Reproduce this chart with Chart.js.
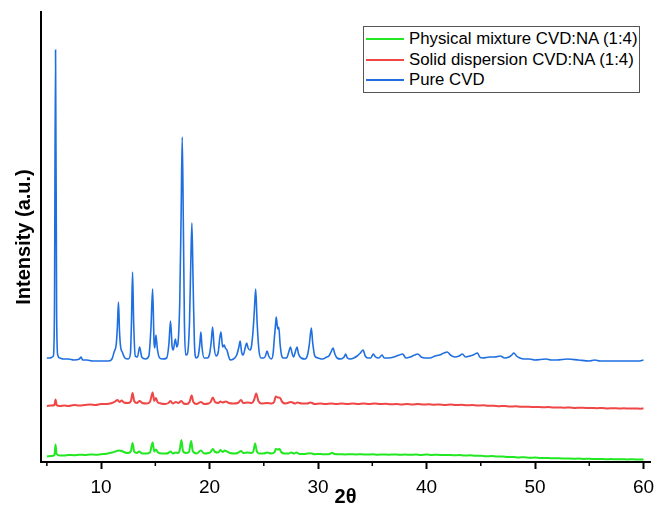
<!DOCTYPE html>
<html>
<head>
<meta charset="utf-8">
<script src="https://cdn.jsdelivr.net/npm/chart.js@4.4.1/dist/chart.umd.min.js"></script>
<style>
  body { margin: 0; background: #fff; }
  #wrap { position: relative; width: 656px; height: 514px; }
  #legend {
    position: absolute; left: 363px; top: 26px; width: 275px; height: 65px;
    border: 1px solid #555; background: #fff;
    font-family: "Liberation Sans", Arial, sans-serif; font-size: 16.8px; color: #000;
  }
  .row { position: absolute; left: 0; height: 20px; line-height: 20px; white-space: nowrap; }
  .row span.line { position: absolute; left: 2px; top: 9px; width: 38px; height: 2px; }
  .row span.txt { position: absolute; left: 45px; top: 0; }
</style>
</head>
<body>
<div id="wrap">
  <canvas id="xrdChart" width="656" height="514"></canvas>
  <div id="legend"></div>
</div>
<script>
// x-axis ticks
const xTicks = [10, 20, 30, 40, 50, 60];
const xMinorTicks = [5, 15, 25, 35, 45, 55];

// Pure CVD
const pureTheta = [5.0, 5.3, 5.5, 5.6, 5.7, 5.8, 5.9, 6.0, 6.2, 6.5, 7.0, 7.5, 8.0, 8.15, 8.3, 8.7, 9.2, 9.7, 10.2, 10.7,
  11.0, 11.2, 11.4, 11.5, 11.6, 11.7, 11.8, 11.95, 12.2, 12.5, 12.7, 12.8, 12.9, 13.0, 13.15, 13.35, 13.55, 13.75, 14.1, 14.4,
  14.6, 14.75, 14.88, 14.95, 15.05, 15.2, 15.4, 15.7, 16.05, 16.25, 16.4, 16.55, 16.65, 16.85, 16.98, 17.1, 17.25, 17.38, 17.48, 17.58,
  17.68, 17.8, 17.95, 18.15, 18.27, 18.37, 18.48, 18.6, 18.75, 18.95, 19.1, 19.2, 19.3, 19.5, 19.8, 20.0, 20.15, 20.28, 20.42, 20.6,
  20.8, 20.95, 21.05, 21.2, 21.35, 21.45, 21.6, 21.75, 21.9, 22.2, 22.5, 22.7, 22.82, 22.95, 23.1, 23.3, 23.42, 23.55, 23.72, 23.85,
  24.0, 24.12, 24.25, 24.38, 24.55, 24.75, 25.0, 25.15, 25.3, 25.45, 25.7, 25.85, 25.98, 26.1, 26.15, 26.28, 26.38, 26.5, 26.65, 26.8,
  27.1, 27.3, 27.45, 27.6, 27.75, 27.9, 28.06, 28.2, 28.45, 28.8, 29.05, 29.2, 29.38, 29.5, 29.7, 30.0, 30.4, 30.8, 31.0, 31.2,
  31.38, 31.55, 31.75, 32.1, 32.4, 32.55, 32.7, 33.0, 33.3, 33.6, 33.9, 34.15, 34.35, 34.6, 34.85, 35.1, 35.3, 35.6, 35.9, 36.1,
  36.5, 37.0, 37.5, 37.8, 38.1, 38.5, 38.9, 39.2, 39.5, 39.9, 40.3, 40.8, 41.2, 41.6, 41.9, 42.2, 42.6, 43.0, 43.3, 43.6,
  44.0, 44.3, 44.7, 44.9, 45.2, 45.8, 46.3, 46.8, 47.2, 47.6, 47.85, 48.05, 48.3, 48.6, 49.0, 49.5, 50.0, 51.0, 51.5, 52.0,
  53.0, 54.0, 55.0, 55.5, 56.0, 57.0, 58.0, 59.0, 59.5, 60.0];
const pureIntensity = [104, 104, 105, 106, 150, 412, 150, 107, 104, 103, 103, 102, 103, 105, 102, 102, 101, 101, 101, 101,
  103, 110, 118, 135, 160, 130, 115, 110, 104, 103, 108, 140, 190, 140, 106, 105, 115, 105, 103, 106,
  135, 173, 120, 114, 127, 112, 104, 103, 104, 118, 141, 115, 112, 123, 115, 120, 160, 250, 325, 240,
  140, 107, 108, 140, 200, 239, 180, 120, 104, 106, 118, 130, 115, 104, 104, 108, 120, 135, 115, 106,
  110, 125, 130, 115, 117, 114, 112, 106, 102, 103, 107, 115, 121, 110, 107, 115, 119, 114, 112, 115,
  130, 150, 173, 140, 112, 104, 104, 106, 111, 106, 103, 108, 125, 140, 145, 133, 135, 118, 106, 104,
  104, 110, 115, 109, 105, 110, 115, 108, 104, 103, 108, 118, 134, 120, 106, 104, 103, 105, 106, 110,
  114, 108, 104, 103, 105, 108, 104, 103, 104, 106, 109, 112, 106, 104, 104, 108, 105, 104, 107, 104,
  104, 105, 107, 108, 104, 105, 107, 108, 105, 104, 104, 106, 107, 109, 110, 107, 105, 106, 108, 105,
  106, 107, 109, 105, 104, 105, 105, 106, 104, 105, 107, 109, 106, 104, 103, 103, 102, 103, 102, 102,
  103, 102, 101, 102, 101, 101, 101, 101, 101, 102];

// Solid dispersion CVD:NA (1:4)
const solidTheta = [5.0, 5.4, 5.7, 5.8, 5.9, 6.2, 6.6, 7.0, 7.5, 8.0, 8.5, 9.0, 9.5, 10.0, 10.5, 11.0, 11.3, 11.5, 11.7, 11.9,
  12.1, 12.5, 12.75, 12.9, 13.05, 13.3, 13.55, 13.8, 14.2, 14.5, 14.75, 14.9, 15.05, 15.2, 15.5, 15.9, 16.2, 16.4, 16.6, 16.9,
  17.1, 17.4, 17.6, 17.9, 18.15, 18.35, 18.5, 18.8, 19.2, 19.5, 19.9, 20.1, 20.3, 20.5, 20.8, 21.0, 21.2, 21.5, 21.8, 22.2,
  22.6, 22.9, 23.1, 23.5, 23.9, 24.1, 24.3, 24.5, 24.8, 25.3, 25.7, 25.95, 26.1, 26.3, 26.5, 26.7, 27.0, 27.5, 27.9, 28.1,
  28.5, 29.0, 29.3, 29.7, 30.2, 30.7, 31.2, 31.7, 32.2, 32.7, 33.2, 33.7, 34.2, 34.7, 35.2, 35.7, 36.2, 36.7, 37.2, 37.7,
  38.2, 38.7, 39.2, 39.7, 40.2, 40.7, 41.2, 41.7, 42.2, 42.7, 43.2, 43.7, 44.2, 44.7, 45.2, 45.7, 46.2, 46.7, 47.2, 47.7,
  48.2, 48.7, 49.2, 49.7, 50.2, 50.7, 51.2, 51.7, 52.2, 52.7, 53.2, 53.7, 54.2, 54.7, 55.2, 55.7, 56.2, 56.7, 57.2, 57.7,
  58.2, 58.7, 59.2, 59.7, 60.0];
const solidIntensity = [56, 56.5, 57, 62.5, 57, 56, 56.5, 56, 57, 56.5, 57, 57.5, 57, 58, 58, 59, 60.5, 62, 60, 61.5,
  59.5, 59, 61, 69, 61, 59, 61, 59, 58.5, 60, 69.5, 61, 64, 60, 58.5, 58, 59, 61, 58.5, 60,
  59, 61, 58.5, 58, 60, 66.5, 60, 58, 60, 58, 58.5, 60, 64.5, 60, 59, 60.5, 59.5, 60.5, 59, 58.5,
  59, 62, 59, 59.5, 59, 62, 68.5, 61, 58.5, 59, 58.5, 60, 65.5, 64.5, 64, 60, 58.5, 60, 58.5, 59.5,
  58.5, 58.5, 59.5, 58, 58.5, 58, 58.5, 58, 58.5, 58, 58.5, 58, 58.5, 58, 58.5, 58, 58.2, 57.7, 58, 57.6,
  58, 57.5, 57.9, 57.4, 57.8, 57.3, 57.6, 57.1, 57.5, 57, 57.2, 56.7, 56.9, 56.4, 56.7, 56.2, 56.3, 55.8, 56, 55.5,
  55.7, 55.2, 55.3, 55, 55.1, 54.7, 54.9, 54.5, 54.6, 54.3, 54.5, 54.1, 54.3, 54, 54.1, 53.8, 54, 53.6, 53.8, 53.5,
  53.7, 53.4, 53.6, 53.3, 53.5];

// Physical mixture CVD:NA (1:4)
const mixTheta = [5.0, 5.4, 5.7, 5.8, 5.9, 6.2, 6.6, 7.0, 7.5, 8.0, 8.5, 9.0, 9.5, 10.0, 10.5, 11.0, 11.3, 11.6, 11.9, 12.2,
  12.5, 12.75, 12.9, 13.05, 13.3, 13.5, 13.8, 14.2, 14.5, 14.75, 14.9, 15.05, 15.25, 15.6, 16.0, 16.2, 16.4, 16.6, 16.9, 17.1,
  17.25, 17.4, 17.55, 17.8, 18.1, 18.3, 18.45, 18.8, 19.2, 19.5, 19.9, 20.1, 20.3, 20.5, 20.8, 21.0, 21.2, 21.4, 21.6, 21.9,
  22.3, 22.6, 22.9, 23.1, 23.5, 23.9, 24.05, 24.2, 24.35, 24.6, 25.0, 25.3, 25.7, 26.0, 26.1, 26.3, 26.45, 26.6, 26.9, 27.3,
  27.5, 27.8, 28.0, 28.3, 28.8, 29.3, 29.7, 30.2, 30.7, 31.1, 31.3, 31.5, 32.0, 32.5, 33.0, 33.5, 34.0, 34.5, 35.0, 35.5,
  36.0, 36.5, 37.0, 37.5, 38.0, 38.5, 39.0, 39.5, 40.0, 40.5, 41.0, 41.5, 42.0, 42.5, 43.0, 43.5, 44.0, 44.5, 45.0, 45.5,
  46.0, 46.5, 47.0, 47.5, 48.0, 48.5, 49.0, 49.5, 50.0, 50.5, 51.0, 51.5, 52.0, 52.5, 53.0, 53.5, 54.0, 54.5, 55.0, 55.5,
  56.0, 56.5, 57.0, 57.5, 58.0, 58.5, 59.0, 59.5, 60.0];
const mixIntensity = [5.5, 6, 7, 17.5, 8, 6.5, 6.5, 7, 6.8, 7.3, 7, 7.5, 7.3, 7.8, 8.3, 9.5, 10.5, 11.5, 11, 9.5,
  9, 11, 19, 10.5, 9, 10.5, 8.5, 8.5, 9.5, 19.5, 10.5, 12.5, 9.5, 8.5, 8.5, 9, 10.5, 8.5, 9.5, 9,
  12, 22, 11, 9, 10, 21, 11, 8.5, 11.5, 8.5, 9, 10, 13, 10, 9.5, 12, 10, 11.5, 10.5, 9,
  8.5, 9, 11, 9, 9.5, 9, 11, 18.5, 11, 8.5, 8.5, 9.5, 8.5, 10, 13, 12.5, 13, 10, 8.5, 8.5,
  9.5, 8.5, 9.5, 8, 8, 8.8, 7.8, 8, 7.7, 8, 9.3, 8, 7.8, 7.5, 7.8, 7.5, 7.8, 7.4, 7.7, 7.3,
  7.6, 7.3, 7.6, 7.2, 7.5, 7.2, 7.5, 7.1, 7.4, 7, 7.3, 6.9, 7.1, 6.7, 6.9, 6.5, 6.7, 6.2, 6.3, 5.8,
  5.9, 5.4, 5.5, 5, 5, 4.6, 4.7, 4.3, 4.4, 4, 4.1, 3.7, 3.8, 3.5, 3.6, 3.3, 3.4, 3.1, 3.2, 3,
  3.1, 2.8, 2.9, 2.7, 2.8, 2.6, 2.7, 2.5, 2.6];

const toPoints = (xs, ys) => xs.map((x, i) => ({ x: x, y: ys[i] }));
const fontFamily = "'Liberation Sans', Arial, sans-serif";

// minor tick marks and tick labels for the 2θ axis (labels may run past the plot edge)
const xAxisExtrasPlugin = {
    id: "xAxisExtras",
    afterDraw(chart) {
        const scale = chart.scales.x;
        const ctx = chart.ctx;
        ctx.save();
        ctx.strokeStyle = "#000";
        ctx.lineWidth = 1.5;
        xMinorTicks.forEach((v) => {
            const px = scale.getPixelForValue(v);
            ctx.beginPath();
            ctx.moveTo(px, scale.top);
            ctx.lineTo(px, scale.top + 4);
            ctx.stroke();
        });
        ctx.fillStyle = "#000";
        ctx.font = "19px " + fontFamily;
        ctx.textAlign = "center";
        ctx.textBaseline = "alphabetic";
        xTicks.forEach((v) => {
            ctx.fillText(String(v), scale.getPixelForValue(v), scale.top + 31);
        });
        ctx.restore();
    },
};

const chartData = {
    datasets: [
        {
            label: "Pure CVD",
            data: toPoints(pureTheta, pureIntensity),
            borderColor: "#1f6fe0",
            borderWidth: 1.6,
        },
        {
            label: "Solid dispersion CVD:NA (1:4)",
            data: toPoints(solidTheta, solidIntensity),
            borderColor: "#f04646",
            borderWidth: 2,
        },
        {
            label: "Physical mixture CVD:NA (1:4)",
            data: toPoints(mixTheta, mixIntensity),
            borderColor: "#22e822",
            borderWidth: 2,
        },
    ],
};

const chartOptions = {
    responsive: false,
    animation: false,
    layout: { padding: { top: 12, right: 6, left: 12, bottom: 0 } },
    elements: {
        point: { radius: 0 },
        line: { cubicInterpolationMode: "monotone" },
    },
    scales: {
        x: {
            type: "linear",
            min: 4.46,
            max: 60.6,
            afterBuildTicks: (scale) => {
                scale.ticks = xTicks.map((v) => ({ value: v }));
            },
            ticks: { display: false },
            grid: {
                display: true,
                drawOnChartArea: false,
                drawTicks: true,
                tickLength: 7,
                tickWidth: 2,
                tickColor: "#000",
            },
            border: { display: true, color: "#000", width: 2 },
            title: {
                display: true,
                text: "2θ",
                color: "#000",
                font: { size: 20, weight: "bold", family: fontFamily },
                padding: { top: 16, bottom: 5 },
            },
        },
        y: {
            min: 0,
            max: 450,
            ticks: { display: false },
            grid: { display: false, drawTicks: false },
            border: { display: true, color: "#000", width: 2 },
            title: {
                display: true,
                text: "Intensity (a.u.)",
                color: "#000",
                font: { size: 20, weight: "bold", family: fontFamily },
                padding: { top: 0, bottom: 5 },
            },
        },
    },
    plugins: {
        legend: { display: false },
        tooltip: { enabled: false },
    },
};

const ctx = document.getElementById("xrdChart");
const chart = new Chart(ctx, {
    type: "line",
    data: chartData,
    options: chartOptions,
    plugins: [xAxisExtrasPlugin],
});

// legend box, top to bottom: physical mixture, solid dispersion, pure
const legendEl = document.getElementById("legend");
chart.data.datasets.slice().reverse().forEach((ds, i) => {
    const row = document.createElement("div");
    row.className = "row";
    row.style.top = (2 + i * 20.5) + "px";
    row.innerHTML = '<span class="line" style="background:' + ds.borderColor + '"></span><span class="txt"></span>';
    row.querySelector(".txt").textContent = ds.label;
    legendEl.appendChild(row);
});
</script>
</body>
</html>
